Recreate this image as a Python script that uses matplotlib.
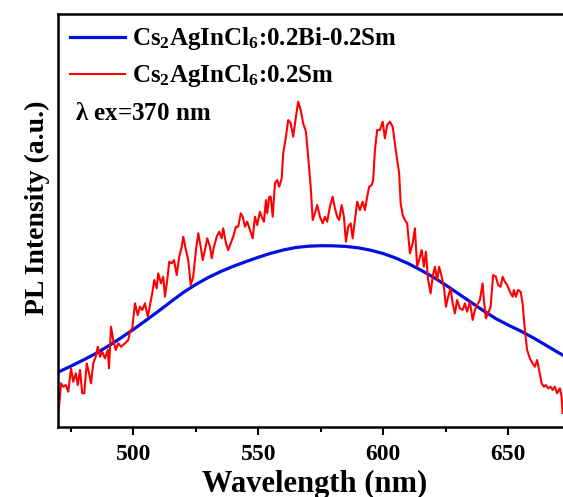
import numpy as np
import matplotlib
matplotlib.use("Agg")
import matplotlib.pyplot as plt

plt.rcParams['font.family'] = ['Liberation Serif', 'DejaVu Serif']
plt.rcParams['font.weight'] = 'bold'
plt.rcParams['mathtext.default'] = 'regular'

# Cs2AgInCl6:0.2Bi-0.2Sm  (smooth broad band)
wl_bi = [470, 475, 480, 485, 490, 495, 500, 505, 510, 515, 520, 525, 530, 535,
         540, 545, 550, 555, 560, 565, 570, 575, 580, 585, 590, 595, 600, 605,
         610, 615, 620, 625, 630, 635, 640, 645, 650, 655, 660, 665, 670, 676]
int_bi = [550, 608, 670, 735, 810, 890, 975, 1065, 1157, 1252, 1345, 1425, 1495, 1555,
          1607, 1653, 1697, 1737, 1770, 1795, 1808, 1813, 1812, 1806, 1792, 1768, 1735, 1690,
          1635, 1570, 1500, 1420, 1335, 1250, 1165, 1085, 1020, 960, 893, 820, 745, 665]

# Cs2AgInCl6:0.2Sm  (noisy, Sm lines)
wl_sm = [470.1, 470.3, 471.1, 472.0, 473.0, 474.0, 475.1, 476.0, 477.0, 477.8, 478.7,
         479.6, 480.4, 481.4, 482.3, 483.1, 484.0, 485.0, 485.8, 486.7, 487.6,
         488.7, 489.8, 490.3, 491.1, 492.0, 493.0, 494.0, 495.1, 496.7, 498.0,
         498.7, 499.6, 500.7, 501.8, 502.7, 503.6, 504.7, 505.8, 506.7, 507.6,
         508.4, 509.4, 510.0, 511.1, 512.0, 512.7, 513.6, 514.4, 515.4, 516.3,
         517.4, 518.4, 519.4, 520.0, 521.1, 522.0, 523.0, 524.0, 525.1, 526.0,
         527.0, 527.8, 528.7, 529.6, 530.7, 531.4, 532.3, 533.4, 534.4, 535.4,
         536.0, 537.1, 538.0, 539.0, 540.0, 541.1, 542.0, 543.0, 543.8, 544.7,
         545.6, 546.7, 547.8, 548.7, 549.6, 550.7, 551.4, 552.3, 553.1, 553.6,
         554.4, 555.0, 555.8, 556.7, 557.6, 558.4, 559.4, 560.0, 561.1, 562.0,
         563.0, 564.0, 565.1, 566.0, 567.0, 568.0, 569.1, 570.0, 571.0, 571.8,
         572.7, 573.6, 574.7, 575.8, 576.7, 577.6, 578.7, 579.8, 580.7, 581.6,
         582.4, 583.4, 584.3, 585.1, 586.0, 587.0, 587.8, 588.7, 589.6, 590.7,
         591.8, 592.7, 593.6, 594.4, 595.4, 596.0, 596.7, 597.6, 598.7, 599.8,
         600.7, 601.6, 602.7, 603.8, 604.7, 605.6, 606.4, 607.0, 607.8, 608.7,
         609.6, 610.7, 611.8, 612.7, 613.6, 614.4, 615.4, 616.3, 617.1, 618.0,
         619.0, 619.8, 620.7, 621.6, 622.4, 623.4, 624.3, 625.1, 626.0, 627.0,
         627.8, 628.7, 629.6, 630.7, 631.8, 632.7, 633.6, 634.7, 635.8, 636.7,
         637.6, 638.7, 639.8, 640.3, 641.1, 642.0, 643.0, 644.0, 645.1, 646.0,
         647.0, 647.8, 648.7, 649.6, 650.7, 651.8, 652.3, 653.1, 654.0, 655.0,
         655.8, 656.7, 657.6, 658.7, 659.8, 660.7, 661.6, 662.4, 663.4, 664.3,
         665.1, 666.0, 667.0, 667.8, 668.7, 669.6, 670.7, 671.4, 671.8]
int_sm = [170, 203, 437, 403, 420, 353, 587, 453, 537, 420, 570,
          337, 337, 637, 537, 437, 637, 703, 803, 703, 753,
          687, 770, 587, 1003, 870, 770, 837, 803, 837, 870,
          953, 987, 1237, 1120, 1203, 1170, 1237, 1103, 1220, 1337,
          1470, 1387, 1537, 1437, 1503, 1303, 1470, 1653, 1637, 1670,
          1520, 1703, 1803, 1903, 1770, 1670, 1420, 1503, 1770, 1937,
          1803, 1670, 1770, 1887, 1803, 1687, 1803, 1903, 1953, 1887,
          1987, 1837, 1770, 1837, 1903, 2003, 2003, 2137, 2103, 2003,
          2053, 1970, 1887, 2103, 2020, 2153, 2103, 2053, 2270, 2137,
          2303, 2303, 2103, 2437, 2470, 2403, 2487, 2737, 2903, 3070,
          3037, 2903, 3103, 3253, 3170, 3037, 2953, 2703, 2403, 2070,
          2137, 2220, 2103, 2037, 2103, 2053, 2203, 2303, 2187, 2103,
          2070, 2220, 2103, 1853, 2003, 2037, 1887, 2070, 2253, 2170,
          2253, 2170, 2303, 2403, 2420, 2470, 2770, 2970, 2970, 3053,
          2887, 3020, 3053, 3003, 2837, 2670, 2537, 2237, 2120, 2070,
          2037, 1737, 1837, 1987, 1603, 1670, 1770, 1603, 1753, 1470,
          1337, 1503, 1603, 1470, 1603, 1503, 1403, 1203, 1303, 1387,
          1237, 1137, 1270, 1187, 1170, 1237, 1153, 1253, 1070, 1170,
          1220, 1270, 1437, 1270, 1087, 1137, 1203, 1520, 1503, 1420,
          1403, 1503, 1453, 1420, 1353, 1303, 1370, 1303, 1370, 1353,
          1237, 970, 770, 687, 637, 603, 670, 570, 437, 403,
          420, 387, 403, 370, 403, 337, 387, 303, 140]

fig = plt.figure(figsize=(5.63, 4.97), dpi=100)
ax = fig.add_axes([0.1035, 0.1408, 0.910, 0.831])

ax.plot(wl_bi, int_bi, color='#0010E0', lw=2.3, label=r'Cs$_2$AgInCl$_6$:0.2Bi-0.2Sm')
ax.plot(wl_sm, int_sm, color='#FF0000', lw=1.5, label=r'Cs$_2$AgInCl$_6$:0.2Sm')

ax.set_xlim(470, 675)
ax.set_ylim(0, 4130)
ax.set_xticks([500, 550, 600, 650])
ax.set_xticks(np.arange(475, 676, 50), minor=True)
ax.set_yticks([])
ax.tick_params(axis='x', which='major', direction='out', length=6, width=1.5,
               labelsize=17, pad=6)
ax.tick_params(axis='x', which='minor', direction='out', length=3.5, width=1.5)
for sp in ax.spines.values():
    sp.set_linewidth(1.8)

fig.text(315 / 563, 1 - 484 / 497, 'Wavelength (nm)', fontsize=22, fontweight='bold',
         ha='center', va='center')
fig.text(37 / 563, 1 - 208 / 497, 'PL Intensity (a.u.)', fontsize=20, fontweight='bold',
         ha='center', va='center', rotation=90)

leg = ax.legend(loc='upper left', frameon=False, fontsize=18, handlelength=2.2,
                handletextpad=0.3, borderaxespad=0.3, labelspacing=0.4,
                borderpad=0.15)
ax.text(0.033, 0.76, r'$\lambda$ ex=370 nm', transform=ax.transAxes, fontsize=18,
        fontweight='bold', va='center', ha='left')

fig.savefig('out.png', dpi=100)
